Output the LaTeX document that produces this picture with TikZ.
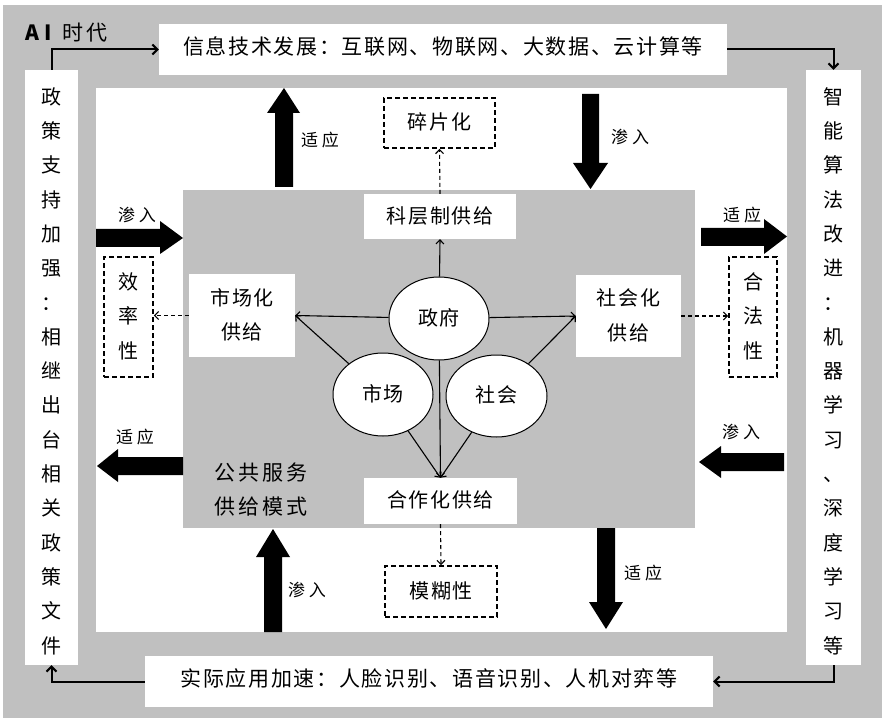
\documentclass[tikz,border=0pt]{standalone}
\usepackage{fontspec}
\newfontfamily\cjk{Noto Sans CJK SC}
\newfontfamily\cjksp{Noto Sans CJK SC}[LetterSpace=8]
\newfontfamily\cjkwide{Noto Sans CJK SC}[LetterSpace=14]
\usetikzlibrary{arrows.meta,shapes.geometric}
\definecolor{bggray}{RGB}{192,192,192}
\newcommand\lowtext[2][4pt]{\raisebox{-#1}{\begin{tabular}{@{}c@{}}#2\end{tabular}}}
\begin{document}
\begin{tikzpicture}[x=1pt,y=-1pt,
  wbox/.style={fill=white, draw=none, inner sep=0pt},
  dbox/.style={fill=white, draw=black, line width=1.8pt, dash pattern=on 5pt off 3pt, inner sep=0pt},
  oval/.style={ellipse, fill=white, draw=black, line width=1pt, inner sep=0pt},
  conn/.style={line width=1.1pt, -{Straight Barb[length=4pt,width=8pt]}},
  dconn/.style={conn, dash pattern=on 4pt off 3pt},
  frarrow/.style={line width=2pt, -{Straight Barb[length=5pt,width=10pt]}},
  lbl/.style={font=\cjk\fontsize{17}{20}\selectfont, inner sep=0pt},
  txt/.style={font=\cjksp\fontsize{20}{34.3}\selectfont},
  big/.style={font=\cjksp\fontsize{21}{24}\selectfont},
]
\useasboundingbox (0,0) rectangle (884,722);
% background regions
\fill[bggray] (3,5) rectangle (882,718);
\fill[white] (96,88) rectangle (787,632);
\fill[bggray] (183,190) rectangle (695,528);

% outer frame boxes
\node[wbox, minimum width=568, minimum height=51, big] (info) at (443,49.5) {\lowtext[2pt]{信息技术发展：互联网、物联网、大数据、云计算等}};
\node[wbox, minimum width=568, minimum height=51, big] (app) at (429,681.5) {\lowtext[2pt]{实际应用加速：人脸识别、语音识别、人机对弈等}};
\node[wbox, minimum width=53, minimum height=595] (policy) at (51.5,367.5) {};
\node[txt, align=center, inner sep=0pt] (policytxt) at (51.5,371) {政\\策\\支\\持\\加\\强\\：\\相\\继\\出\\台\\相\\关\\政\\策\\文\\件};
\node[wbox, minimum width=55, minimum height=595] (algo) at (833.5,367.5) {};
\node[txt, align=center, inner sep=0pt] (algotxt) at (833.5,371) {智\\能\\算\\法\\改\\进\\：\\机\\器\\学\\习\\、\\深\\度\\学\\习\\等};
\node[font=\cjk\fontsize{21}{24}\selectfont, anchor=west, inner sep=0pt] (era) at (25,33) {{\bfseries A\hspace{5pt}I}\hspace{11pt}{\cjkwide 时代}};

\draw[frarrow] (policy.north) |- (info.west);
\draw[frarrow] (info.east) -| (algo.north);
\draw[frarrow] (algo.south) |- (app.east);
\draw[frarrow] (app.west) -| (policy.south);

% block arrows
\fill (275,187) -- (275,113) -- (267,113) -- (284,88) -- (300,113) -- (293,113) -- (293,187) -- cycle;
\fill (582,94) -- (582,163) -- (573,163) -- (590.5,189) -- (608,163) -- (599,163) -- (599,94) -- cycle;
\fill (96,229) -- (160,229) -- (160,221) -- (183,238) -- (160,254) -- (160,247) -- (96,247) -- cycle;
\fill (701,228) -- (764,228) -- (764,219) -- (787,236.5) -- (764,254) -- (764,246) -- (701,246) -- cycle;
\fill (183,457) -- (118,457) -- (118,449) -- (97,466) -- (118,482) -- (118,475) -- (183,475) -- cycle;
\fill (784,453) -- (721,453) -- (721,446) -- (699,462) -- (721,478) -- (721,471) -- (784,471) -- cycle;
\fill (264,632) -- (264,557) -- (256,557) -- (273,529) -- (290,557) -- (282,557) -- (282,632) -- cycle;
\fill (597,528) -- (597,602) -- (589,602) -- (606,629) -- (623,602) -- (615,602) -- (615,528) -- cycle;

\node[lbl] (l1) at (320,140) {适\hspace{4pt}应};
\node[lbl] (l2) at (630,137) {渗\hspace{4pt}入};
\node[lbl] (l3) at (137,215) {渗\hspace{4pt}入};
\node[lbl] (l4) at (742,215) {适\hspace{4pt}应};
\node[lbl] (l5) at (135,437) {适\hspace{4pt}应};
\node[lbl] (l6) at (741,432) {渗\hspace{4pt}入};
\node[lbl] (l7) at (307,590) {渗\hspace{4pt}入};
\node[lbl] (l8) at (643,573) {适\hspace{4pt}应};

% central boxes
\node[wbox, minimum width=152, minimum height=45, txt] (kc) at (440,216.5) {\lowtext{科层制供给}};
\node[dbox, minimum width=111, minimum height=50, txt] (sp) at (439.5,123) {\lowtext[2pt]{碎片化}};
\node[wbox, minimum width=106, minimum height=83, txt] (scb) at (242,315.5) {\lowtext{市场化\\供给}};
\node[wbox, minimum width=105, minimum height=82, txt] (shb) at (628.5,316) {\lowtext{社会化\\供给}};
\node[dbox, minimum width=49, minimum height=120, txt] (xl) at (128.5,317) {\lowtext[1pt]{效\\率\\性}};
\node[dbox, minimum width=48, minimum height=120, txt] (hf) at (753,317) {\lowtext[1pt]{合\\法\\性}};
\node[wbox, minimum width=153, minimum height=46, txt] (hz) at (440.5,501) {\lowtext{合作化供给}};
\node[dbox, minimum width=112, minimum height=51, txt] (mh) at (441,591.5) {\lowtext[1pt]{模糊性}};
\node[oval, minimum width=100, minimum height=83, txt] (zf) at (439,318.5) {\lowtext[6pt]{政府}};
\node[oval, minimum width=100, minimum height=83, txt] (sc) at (383,394.5) {\lowtext[6pt]{市场}};
\node[oval, minimum width=101, minimum height=82, txt] (sh) at (496.5,396) {\lowtext[6pt]{社会}};
\node[font=\cjkwide\fontsize{21}{34}\selectfont, align=center, inner sep=0pt] (mode) at (261,490) {公共服务\\供给模式};

% connectors
\draw[conn] (zf) -- (kc.south);
\draw[conn] (zf) -- (scb.east);
\draw[conn] (zf) -- (shb.west);
\draw[conn] (sc) -- (scb.east);
\draw[conn] (sh) -- (shb.west);
\draw[conn] (zf) -- (hz.north);
\draw[conn] (sc) -- (hz.north);
\draw[conn] (sh) -- (hz.north);
\draw[dconn] (kc.north) -- (sp.south);
\draw[dconn] (scb.west) -- (scb.west -| xl.east);
\draw[dconn] (shb.east) -- (shb.east -| hf.west);
\draw[dconn] (hz.south) -- (mh.north);
\end{tikzpicture}
\end{document}
